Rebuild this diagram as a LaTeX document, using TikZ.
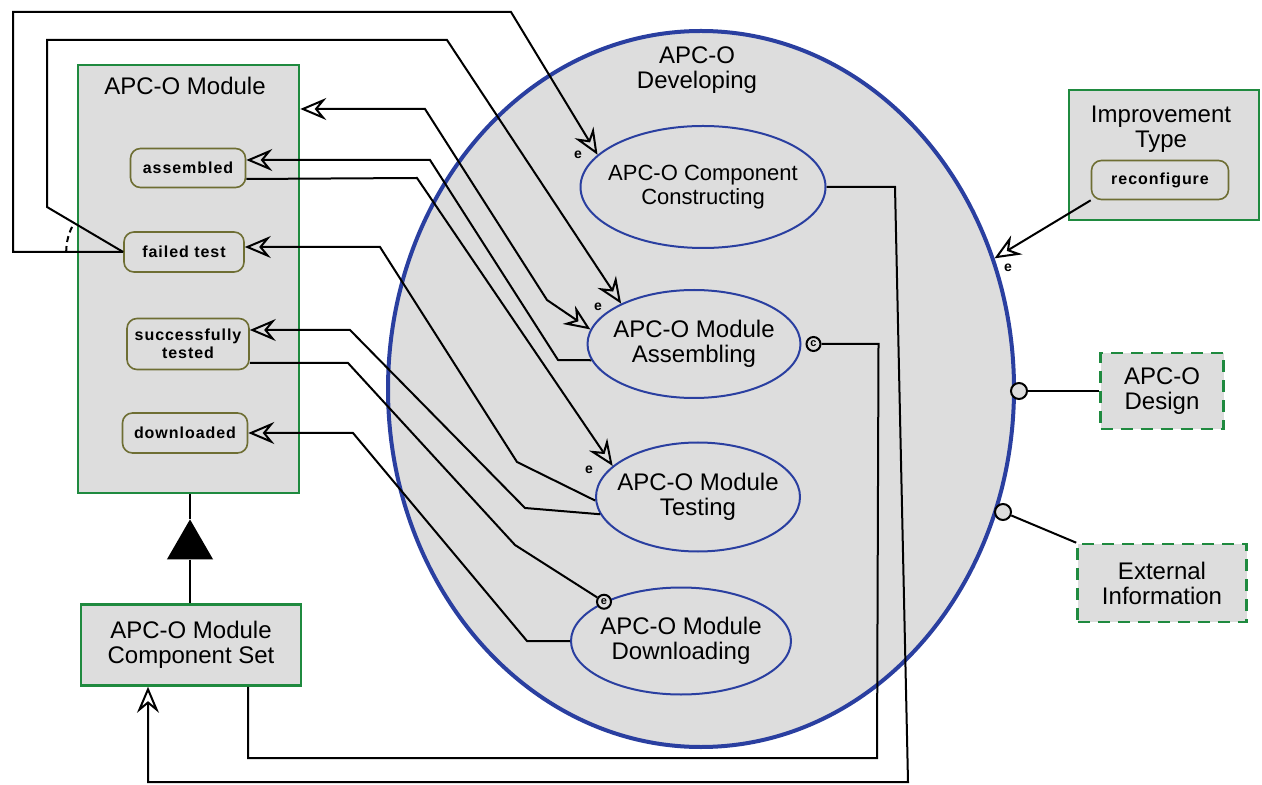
\documentclass[tikz,border=0pt]{standalone}
\usepackage{fontspec}
\setmainfont{Liberation Sans}
\newfontfamily\stateFont{Liberation Sans}[LetterSpace=6.0]
\usepackage{tikz}
\usetikzlibrary{shapes.geometric, positioning, arrows.meta}
\definecolor{opmGray}{HTML}{DDDDDD}
\definecolor{opmBlue}{HTML}{2A3FA0}
\definecolor{opmGreen}{HTML}{1F8A3F}
\definecolor{opmOlive}{HTML}{6E6E33}
\tikzset{
	opmTip/.tip={Stealth[open, length=13pt, width=11pt, inset=4.5pt]},
	titleText/.style={
		font=\fontsize{12}{12.5}\selectfont,
		align=center,
		inner sep=0pt},
	objBox/.style={
		draw=opmGreen,
		line width=1.3pt,
		fill=opmGray,
		inner sep=0pt,
		align=center,
		font=\fontsize{12}{12.5}\selectfont
	},
	envBox/.style={
		objBox,
		dash pattern=on 6pt off 4pt
	},
	objState/.style={
		draw=opmOlive,
		line width=0.8pt,
		fill=opmGray,
		rounded corners=5pt,
		inner sep=0pt,
		align=center,
		font=\stateFont\fontsize{8}{9}\selectfont\bfseries
	},
	procEllipse/.style={
		ellipse,
		draw=opmBlue,
		line width=1pt,
		fill=opmGray,
		inner xsep=-10pt,
		inner ysep=0pt,
		align=center,
		font=\fontsize{12}{12.5}\selectfont
	},
	flowPlain/.style={
		draw=black,
		line width=1pt},
	flowArrow/.style={
		flowPlain,
		-opmTip},
	flowBoth/.style={
		flowPlain,
		opmTip-opmTip},
	linkCircle/.style={
		circle,
		draw=black,
		line width=1pt,
		fill=opmGray,
		minimum size=8pt,
		inner sep=0pt},
	eventCircle/.style={
		linkCircle,
		minimum size=7pt,
		font=\fontsize{5.5}{5.5}\selectfont\bfseries},
	eventMark/.style={
		font=\fontsize{7}{7}\selectfont\bfseries,
		inner sep=0pt},
	aggTri/.style={
		regular polygon,
		regular polygon sides=3,
		fill=black,
		minimum size=26.6pt,
		inner sep=0pt},
}

\begin{document}
\begin{tikzpicture}[x=0.5pt, y=-0.5pt]
	\useasboundingbox (0,0) rectangle (1262,785);

	% developing process
	\node [procEllipse, line width=2pt, minimum width=313pt, minimum height=358pt] (developing) at (701,389) {};
	\node [titleText] (developingTitle) at (697,70) {APC-O\\Developing};
	\node [procEllipse, font=\fontsize{11}{12}\selectfont, minimum width=122.5pt, minimum height=61pt] (construct) at (703,187) {APC-O Component\\Constructing};
	\node [procEllipse, minimum width=106.5pt, minimum height=54pt] (assemble) at (694,344) {APC-O Module\\Assembling};
	\node [procEllipse, minimum width=102pt, minimum height=54.5pt] (testing) at (698,497) {APC-O Module\\Testing};
	\node [procEllipse, minimum width=110pt, minimum height=53.5pt] (download) at (681,641) {APC-O Module\\Downloading};

	% module and its states
	\node [objBox, minimum width=110.5pt, minimum height=214pt] (module) at (188.5,279) {};
	\node [titleText] (moduleTitle) at (185,86) {APC-O Module};
	\node [objState, minimum width=57.5pt, minimum height=19.5pt] (assembled) at (188,168) {assembled};
	\node [objState, minimum width=60pt, minimum height=20pt] (failed) at (184,252) {failed test};
	\node [objState, minimum width=61pt, minimum height=25.5pt] (success) at (188,344) {successfully\\tested};
	\node [objState, minimum width=62.5pt, minimum height=20pt] (downloaded) at (185,433) {downloaded};

	% component set
	\node [objBox, minimum width=110pt, minimum height=40.5pt] (compSet) at (191,645) {APC-O Module\\Component Set};
	\node [aggTri] (agg) at (190,546) {};
	\draw [flowPlain] (module.south -| agg) -- (agg.north);
	\draw [flowPlain] (agg.south) -- (compSet.north -| agg);

	% environment and improvement type
	\node [objBox, minimum width=95pt, minimum height=65pt] (improve) at (1164,155) {};
	\node [titleText] (improveTitle) at (1161,129) {Improvement\\Type};
	\node [objState, minimum width=68.5pt, minimum height=19.5pt] (reconfigure) at (1160,180) {reconfigure};
	\node [envBox, minimum width=61.5pt, minimum height=38pt] (design) at (1162,391) {APC-O\\Design};
	\node [envBox, minimum width=84.5pt, minimum height=39pt] (external) at (1162,583) {External\\Information};

	% failed test triggers
	\draw [flowArrow] (failed.west) -| (13,12) -- (511,12) -- (construct.163);
	\draw [flowArrow] (failed.west) -- (47,207) -- (47,40) -- (447,40) -- (assemble.151);
	\draw [flowPlain, dashed, dash pattern=on 3pt off 2pt] ([xshift=-28.5pt]failed.west) arc[start angle=180, end angle=150, radius=28.5pt];
	\node [eventMark] (eConstruct) at (578,155) {e};
	\node [eventMark] (eAssemble) at (598,307) {e};

	% assembling
	\draw [flowBoth] (module.east |- 0,109) -- (425,109) -- (547,300) -- (assemble.172);
	\draw [flowArrow] (assemble.189) -- (558,360) -- (430,160) -- ([yshift=4pt]assembled.east);
	\draw [flowArrow] ([yshift=-5.5pt]assembled.east) -- (417,178) -- (testing.160);
	\node [eventMark] (eTesting) at (589,470) {e};

	% testing
	\draw [flowArrow] (testing.182) -- (517,462) -- (380,247) -- ([yshift=2.5pt]failed.east);
	\draw [flowArrow] (testing.190) -- (525,508) -- (350,330) -- ([yshift=7pt]success.east);

	% downloading
	\node [eventCircle] (downEvent) at (download.153) {e};
	\draw [flowPlain] ([yshift=-9.5pt]success.east) -- (348,363) -- (515,545) -- (downEvent);
	\draw [flowArrow] (download.west) -- (527,641) -- (353,433) -- (downloaded.east);

	% component set links
	\draw [flowArrow] (construct.east) -- (895,187) -- (908,782) -- (148,782) -- (compSet.south -| 148,0);
	\node [eventCircle, anchor=west] (assembleCond) at ([xshift=2pt]assemble.east) {c};
	\draw [flowPlain] (assembleCond.east) -- ++(57,0) -- (877,758) -- (248,758) -- (compSet.south -| 248,0);

	% environment links
	\draw [flowArrow] (reconfigure.south west) -- (developing.24);
	\node [eventMark] (eDeveloping) at (1008,268) {e};
	\node [linkCircle] (designCirc) at (1019,391) {};
	\draw [flowPlain] (design.west) -- (designCirc);
	\node [linkCircle] (extCirc) at (1003,512) {};
	\draw [flowPlain] (external.north west) -- (extCirc);
\end{tikzpicture}
\end{document}
